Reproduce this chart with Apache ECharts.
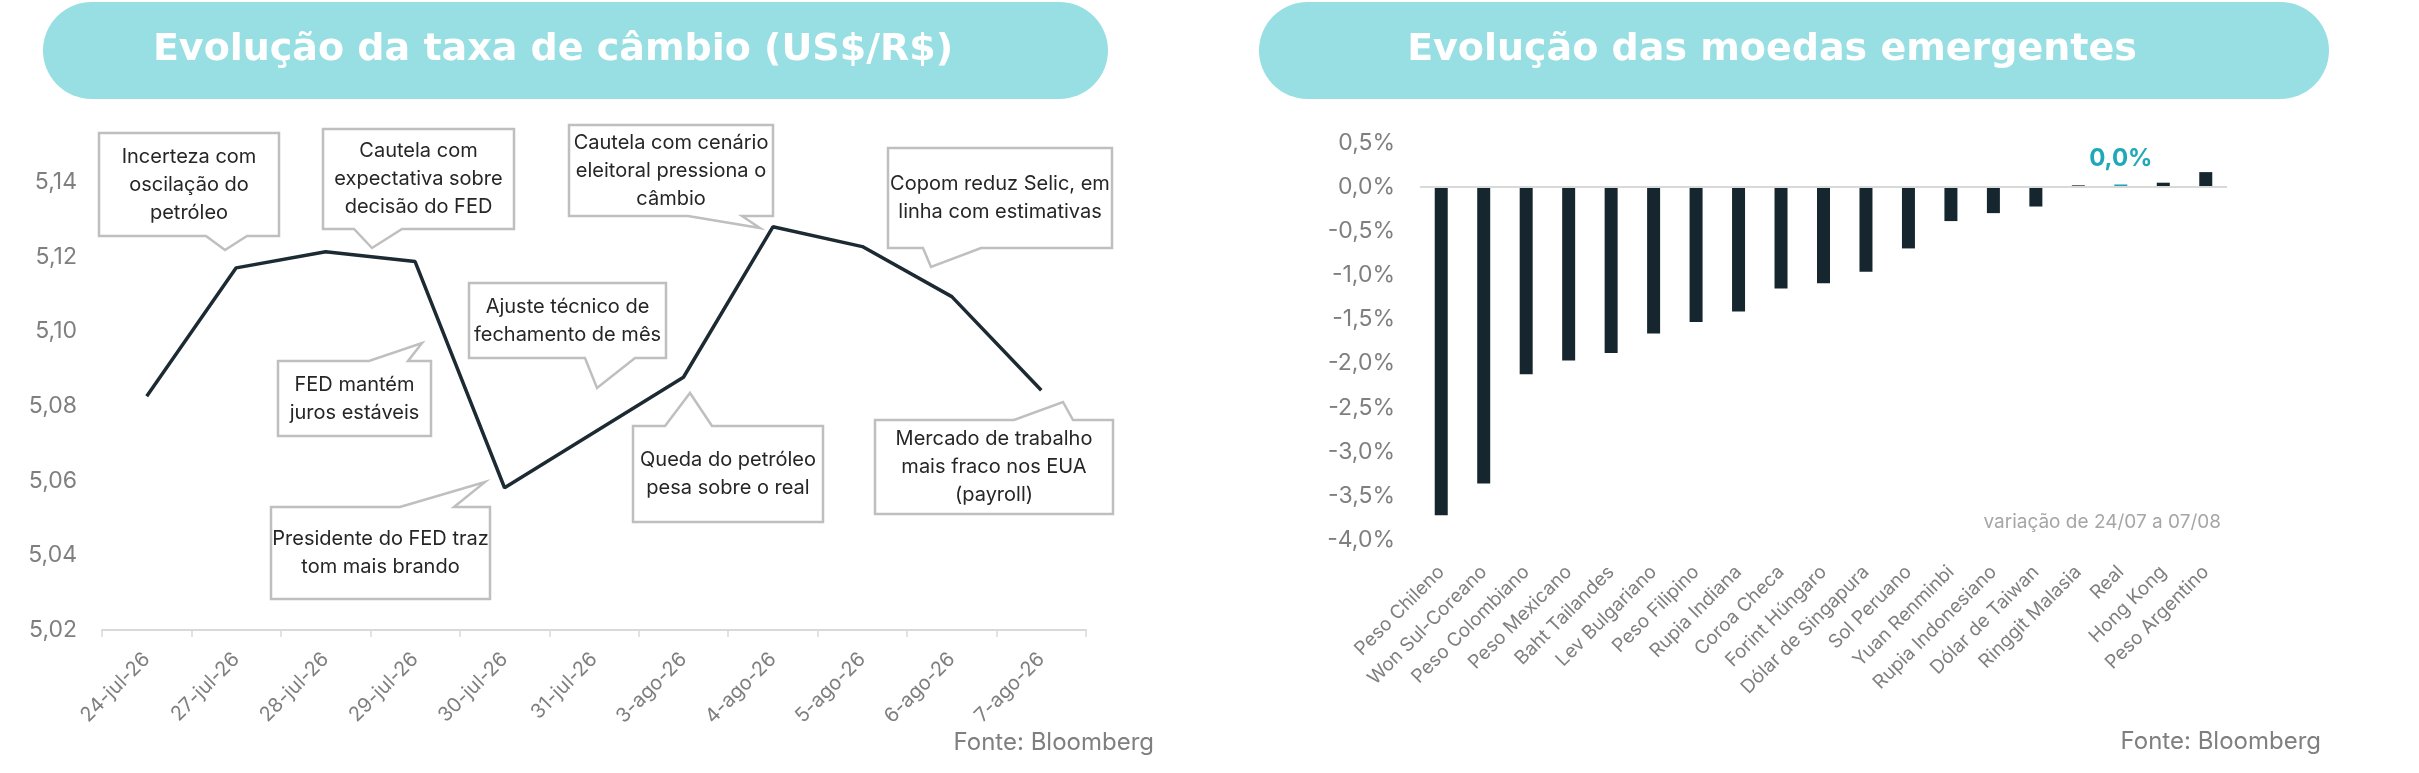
<!DOCTYPE html>
<html>
<head>
<meta charset="utf-8">
<script src="https://cdn.jsdelivr.net/npm/echarts@6/dist/echarts.min.js"></script>
<style>
html,body{margin:0;padding:0;background:#fff;}
#main{width:2419px;height:773px;}
</style>
</head>
<body>
<div id="main"></div>
<script>
// cambio US$/R$
var datas = ['24-jul-26','27-jul-26','28-jul-26','29-jul-26','30-jul-26','31-jul-26','3-ago-26','4-ago-26','5-ago-26','6-ago-26','7-ago-26'];
var cambio = [5.0826, 5.117, 5.1213, 5.1187, 5.0581, 5.0729, 5.0877, 5.128, 5.1227, 5.1093, 5.0842];

// moedas emergentes, variação %
var moedas = ['Peso Chileno','Won Sul-Coreano','Peso Colombiano','Peso Mexicano','Baht Tailandes','Lev Bulgariano','Peso Filipino','Rupia Indiana','Coroa Checa','Forint Húngaro','Dólar de Singapura','Sol Peruano','Yuan Renminbi','Rupia Indonesiano','Dólar de Taiwan','Ringgit Malasia','Real','Hong Kong','Peso Argentino'];
var variacao = [-3.72, -3.36, -2.12, -1.965, -1.88, -1.66, -1.53, -1.41, -1.15, -1.09, -0.96, -0.695, -0.385, -0.295, -0.22, 0.02, 0.03, 0.05, 0.17];

// textos das caixas
var notas = [
	['Incerteza com','oscilação do','petróleo'],
	['Cautela com','expectativa sobre','decisão do FED'],
	['Cautela com cenário','eleitoral pressiona o','câmbio'],
	['Copom reduz Selic, em','linha com estimativas'],
	['Ajuste técnico de','fechamento de mês'],
	['FED mantém','juros estáveis'],
	['Presidente do FED traz','tom mais brando'],
	['Queda do petróleo','pesa sobre o real'],
	['Mercado de trabalho','mais fraco nos EUA','(payroll)']
];
// caixa [x1,y1,x2,y2], lado da ponta, base da ponta, ponta
var caixas = [
	[99,133,279,236,'b',206,247,225,250],
	[323,129,514,229,'b',354,402,372,248],
	[569,125,773,216,'b',688,742,760,228],
	[888,148,1112,248,'b',923,981,931,267],
	[469,283,666,358,'b',585,635,597,388],
	[278,361,431,436,'t',369,408,422,343],
	[271,507,490,599,'t',400,454,485,482],
	[633,426,823,522,'t',665,712,690,393],
	[875,420,1113,514,'t',1014,1073,1063,402]
];

var fonte = 'Inter, "Open Sans", "Noto Sans", sans-serif';
var fonteTitulo = '"DejaVu Sans", Inter, sans-serif';
var cinza = '#7f7f7f';

function balao(c, linhas){
	var x1=c[0],y1=c[1],x2=c[2],y2=c[3];
	var pts;
	if(c[4]=='b'){
		pts=[[x1,y1],[x2,y1],[x2,y2],[c[6],y2],[c[7],c[8]],[c[5],y2],[x1,y2]];
	}else{
		pts=[[x1,y1],[c[5],y1],[c[7],c[8]],[c[6],y1],[x2,y1],[x2,y2],[x1,y2]];
	}
	return {
		type:'group',
		children:[
			{type:'polygon',shape:{points:pts},style:{fill:'#fff',stroke:'#bfbfbf',lineWidth:2.5,lineJoin:'miter'},z:10},
			{type:'text',x:(x1+x2)/2,y:(y1+y2)/2,z:11,style:{
				text:linhas.join('\n'),fill:'#262626',font:'20px '+fonte,
				align:'center',verticalAlign:'middle',lineHeight:28
			}}
		]
	};
}

function init(){
	var chart=echarts.init(document.getElementById('main'));
	var graficos=[
		{type:'rect',shape:{x:43,y:2,width:1065,height:97,r:48.5},style:{fill:'#98dfe4'},z:1},
		{type:'rect',shape:{x:1259,y:2,width:1070,height:97,r:48.5},style:{fill:'#98dfe4'},z:1},
		{type:'text',x:553,y:50,z:2,style:{text:'Evolução da taxa de câmbio (US$/R$)',fill:'#fff',font:'bold 38px '+fonteTitulo,align:'center',verticalAlign:'middle'}},
		{type:'text',x:1772,y:50,z:2,style:{text:'Evolução das moedas emergentes',fill:'#fff',font:'bold 38px '+fonteTitulo,align:'center',verticalAlign:'middle'}},
		{type:'text',x:1154,y:743,style:{text:'Fonte: Bloomberg',fill:cinza,font:'24px '+fonte,align:'right',verticalAlign:'middle'}},
		{type:'text',x:2321,y:742,style:{text:'Fonte: Bloomberg',fill:cinza,font:'24px '+fonte,align:'right',verticalAlign:'middle'}},
		{type:'text',x:2221,y:522,style:{text:'variação de 24/07 a 07/08',fill:'#a6a6a6',font:'19px '+fonte,align:'right',verticalAlign:'middle'}}
	];
	for(var i=0;i<caixas.length;i++){
		graficos.push(balao(caixas[i],notas[i]));
	}

	var option={
		animation:false,
		textStyle:{fontFamily:fonte},
		grid:[
			{left:102,top:182,width:984,height:448},
			{left:1420,top:143,width:807,height:397}
		],
		xAxis:[
			{
				type:'category',gridIndex:0,data:datas,boundaryGap:true,
				axisLine:{lineStyle:{color:'#d9d9d9',width:2}},
				axisTick:{show:true,length:7,lineStyle:{color:'#d9d9d9',width:1.5}},
				axisLabel:{rotate:45,interval:0,color:cinza,fontSize:20,margin:26}
			},
			{
				type:'category',gridIndex:1,data:moedas,
				axisLine:{show:false,onZero:false},
				axisTick:{show:false},
				axisLabel:{rotate:45,interval:0,color:cinza,fontSize:19,margin:29}
			}
		],
		yAxis:[
			{
				type:'value',gridIndex:0,min:5.02,max:5.14,interval:0.02,
				splitLine:{show:false},axisLine:{show:false},axisTick:{show:false},
				axisLabel:{color:cinza,fontSize:23,margin:25,formatter:function(v){return v.toFixed(2).replace('.',',');}}
			},
			{
				type:'value',gridIndex:1,min:-4,max:0.5,interval:0.5,
				splitLine:{show:false},axisLine:{show:false},axisTick:{show:false},
				axisLabel:{color:cinza,fontSize:23,margin:25,formatter:function(v){return v.toFixed(1).replace('.',',')+'%';}}
			}
		],
		series:[
			{
				name:'cambio',type:'line',xAxisIndex:0,yAxisIndex:0,data:cambio,
				symbol:'none',lineStyle:{color:'#1c2b33',width:3.5},z:5
			},
			{
				name:'moedas',type:'bar',xAxisIndex:1,yAxisIndex:1,barWidth:13,
				data:variacao.map(function(v,i){
					if(moedas[i]=='Real'){
						return {value:v,itemStyle:{color:'#22a6b7'},label:{show:true,position:'top',distance:14,color:'#1fa8b8',fontWeight:'bold',fontSize:24,
							formatter:function(p){return p.value.toFixed(1).replace('.',',')+'%';}}};
					}
					return v;
				}),
				itemStyle:{color:'#16262f'},
				markLine:{silent:true,symbol:'none',label:{show:false},
					lineStyle:{color:'#d9d9d9',width:2,type:'solid'},data:[{yAxis:0}]}
			}
		],
		graphic:graficos
	};
	chart.setOption(option);
}
init();
</script>
</body>
</html>
